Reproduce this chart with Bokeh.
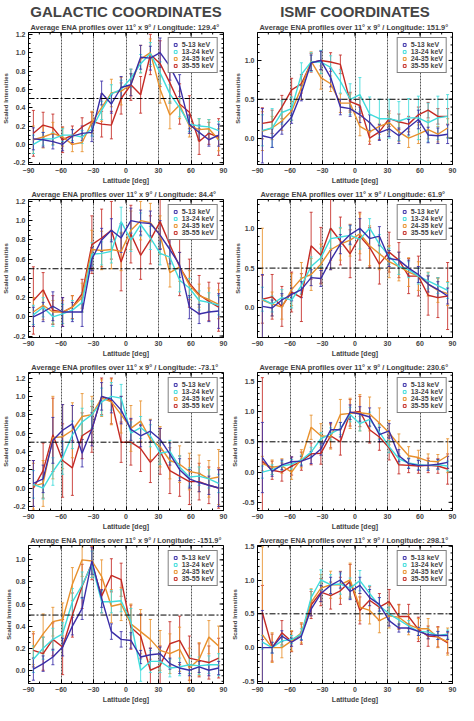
import numpy as np
from bokeh.plotting import figure
from bokeh.layouts import gridplot
from bokeh.models import (Range1d, FixedTicker, Span, Whisker, ColumnDataSource,
                          Legend, LegendItem, Title, TeeHead, NumeralTickFormatter)
from bokeh.embed import file_html
from bokeh.resources import INLINE

# ---------------- data ----------------
latitudes = [-85.5, -76.5, -67.5, -58.5, -49.5, -40.5, -31.5, -22.5, -13.5, -4.5,
             4.5, 13.5, 22.5, 31.5, 40.5, 49.5, 58.5, 67.5, 76.5, 85.5]
energy_bands = ["5-13 keV", "13-24 keV", "24-35 keV", "35-55 keV"]
band_colors = ["#3a2ea8", "#3fdcdc", "#e8902c", "#c42a24"]
x_ticks = [-90, -60, -30, 0, 30, 60, 90]

# Galactic, longitude 129.4
g1294_513 = [0.06, 0.05, 0.03, 0.00, 0.09, 0.12, 0.13, 0.56, 0.44, 0.62, 0.65, 0.95, 0.94, 1.00, 0.85, 0.64, 0.22, 0.13, 0.05, 0.10]
g1294_1324 = [0.00, 0.06, 0.06, 0.10, 0.10, 0.08, 0.17, 0.37, 0.55, 0.60, 0.72, 0.88, 0.99, 0.78, 0.55, 0.40, 0.22, 0.20, 0.19, 0.15]
g1294_2435 = [0.05, 0.08, 0.12, 0.08, 0.00, 0.02, 0.24, 0.40, 0.56, 0.58, 0.65, 0.93, 1.00, 0.60, 0.32, 0.43, 0.20, 0.16, 0.17, 0.05]
g1294_3555 = [0.12, 0.21, 0.18, 0.05, 0.10, 0.19, 0.25, 0.22, 0.21, 0.50, 0.65, 0.54, 0.98, 0.88, 0.67, 0.44, 0.35, 0.03, 0.12, 0.08]
g1294_err513 = [0.12, 0.08, 0.08, 0.07, 0.07, 0.08, 0.10, 0.13, 0.10, 0.12, 0.12, 0.13, 0.13, 0.16, 0.15, 0.12, 0.10, 0.08, 0.07, 0.12]
g1294_err1324 = [0.10, 0.07, 0.07, 0.07, 0.06, 0.07, 0.08, 0.10, 0.10, 0.10, 0.10, 0.10, 0.12, 0.12, 0.10, 0.10, 0.08, 0.08, 0.08, 0.10]
g1294_err2435 = [0.15, 0.12, 0.12, 0.10, 0.08, 0.10, 0.12, 0.15, 0.15, 0.15, 0.12, 0.15, 0.15, 0.15, 0.15, 0.15, 0.12, 0.12, 0.10, 0.12]
g1294_err3555 = [0.25, 0.14, 0.15, 0.14, 0.10, 0.10, 0.10, 0.14, 0.15, 0.17, 0.17, 0.20, 0.22, 0.25, 0.22, 0.22, 0.18, 0.14, 0.12, 0.20]

# ISMF, longitude 151.9
i1519_513 = [0.03, 0.00, 0.13, 0.27, 0.58, 0.97, 1.00, 0.78, 0.40, 0.38, 0.30, 0.20, 0.07, 0.12, 0.03, 0.14, 0.24, 0.04, 0.03, 0.05]
i1519_1324 = [0.10, 0.13, 0.33, 0.38, 0.82, 0.98, 0.98, 0.91, 0.73, 0.50, 0.56, 0.31, 0.25, 0.25, 0.22, 0.26, 0.26, 0.20, 0.26, 0.28]
i1519_2435 = [0.09, 0.13, 0.22, 0.35, 0.65, 0.99, 0.78, 0.70, 0.45, 0.45, 0.15, 0.08, 0.15, 0.20, 0.08, 0.00, 0.05, 0.11, 0.05, 0.13]
i1519_3555 = [0.19, 0.21, 0.40, 0.62, 0.70, 0.97, 1.00, 0.98, 0.95, 0.47, 0.42, 0.00, 0.08, 0.25, 0.21, 0.18, 0.30, 0.36, 0.28, 0.28]
i1519_err513 = [0.35, 0.12, 0.08, 0.08, 0.10, 0.10, 0.12, 0.12, 0.10, 0.10, 0.10, 0.10, 0.10, 0.10, 0.10, 0.10, 0.12, 0.10, 0.10, 0.12]
i1519_err1324 = [0.20, 0.25, 0.15, 0.15, 0.15, 0.12, 0.15, 0.15, 0.15, 0.20, 0.22, 0.22, 0.25, 0.25, 0.25, 0.25, 0.28, 0.25, 0.28, 0.28]
i1519_err2435 = [0.25, 0.15, 0.12, 0.12, 0.15, 0.12, 0.15, 0.10, 0.12, 0.12, 0.12, 0.12, 0.10, 0.12, 0.12, 0.12, 0.12, 0.12, 0.10, 0.12]
i1519_err3555 = [0.20, 0.15, 0.15, 0.15, 0.12, 0.12, 0.12, 0.12, 0.12, 0.12, 0.10, 0.08, 0.10, 0.10, 0.10, 0.10, 0.10, 0.10, 0.10, 0.10]

# Galactic, longitude 84.4
g844_513 = [0.00, 0.05, 0.11, 0.05, 0.05, 0.05, 0.60, 0.80, 0.90, 0.82, 1.00, 0.98, 0.97, 0.85, 0.70, 0.54, 0.10, 0.03, 0.05, 0.06]
g844_1324 = [0.02, 0.10, 0.00, 0.03, 0.07, 0.15, 0.65, 0.66, 0.68, 0.99, 0.80, 0.96, 0.82, 0.66, 0.62, 0.38, 0.30, 0.17, 0.15, 0.12]
g844_2435 = [0.05, 0.12, 0.05, 0.05, 0.10, 0.20, 0.70, 0.69, 0.70, 0.68, 0.90, 1.00, 0.98, 0.85, 0.46, 0.52, 0.33, 0.22, 0.18, 0.13]
g844_3555 = [0.17, 0.28, 0.07, 0.05, 0.10, 0.24, 0.75, 0.82, 0.90, 0.57, 0.86, 0.64, 0.80, 0.99, 0.75, 0.52, 0.35, 0.23, 0.16, 0.10]
g844_err513 = [0.10, 0.10, 0.15, 0.15, 0.10, 0.15, 0.12, 0.12, 0.12, 0.15, 0.13, 0.13, 0.13, 0.15, 0.15, 0.13, 0.12, 0.10, 0.10, 0.18]
g844_err1324 = [0.10, 0.10, 0.10, 0.10, 0.10, 0.10, 0.12, 0.12, 0.12, 0.15, 0.12, 0.12, 0.12, 0.12, 0.12, 0.12, 0.10, 0.10, 0.10, 0.10]
g844_err2435 = [0.15, 0.15, 0.12, 0.12, 0.12, 0.15, 0.20, 0.20, 0.20, 0.20, 0.20, 0.20, 0.20, 0.20, 0.15, 0.15, 0.15, 0.12, 0.12, 0.15]
g844_err3555 = [0.35, 0.18, 0.15, 0.15, 0.12, 0.15, 0.30, 0.30, 0.30, 0.30, 0.30, 0.25, 0.25, 0.28, 0.25, 0.30, 0.25, 0.20, 0.20, 0.25]

# ISMF, longitude 61.9
i619_513 = [0.02, 0.00, 0.10, 0.17, 0.23, 0.38, 0.37, 0.60, 0.80, 0.92, 1.00, 0.87, 0.90, 0.62, 0.60, 0.50, 0.42, 0.30, 0.23, 0.15]
i619_1324 = [0.11, 0.05, 0.13, 0.10, 0.28, 0.52, 0.63, 0.87, 0.89, 0.91, 0.86, 1.00, 0.80, 0.65, 0.52, 0.48, 0.40, 0.34, 0.28, 0.22]
i619_2435 = [0.10, 0.05, 0.01, 0.23, 0.37, 0.42, 0.55, 0.73, 0.80, 0.85, 0.93, 0.78, 0.68, 0.58, 0.52, 0.45, 0.40, 0.30, 0.22, 0.18]
i619_3555 = [0.11, 0.14, 0.02, 0.20, 0.13, 0.78, 0.66, 1.00, 0.84, 0.68, 0.90, 0.76, 0.55, 0.70, 0.60, 0.40, 0.40, 0.16, 0.13, 0.15]
i619_err513 = [0.40, 0.10, 0.08, 0.08, 0.10, 0.10, 0.10, 0.12, 0.12, 0.12, 0.12, 0.12, 0.12, 0.10, 0.10, 0.10, 0.10, 0.10, 0.10, 0.10]
i619_err1324 = [0.15, 0.10, 0.10, 0.10, 0.10, 0.12, 0.12, 0.12, 0.12, 0.12, 0.12, 0.12, 0.12, 0.10, 0.10, 0.10, 0.10, 0.10, 0.10, 0.10]
i619_err2435 = [0.90, 0.15, 0.15, 0.20, 0.20, 0.20, 0.25, 0.25, 0.20, 0.20, 0.25, 0.25, 0.20, 0.20, 0.18, 0.18, 0.18, 0.15, 0.15, 0.15]
i619_err3555 = [0.30, 0.28, 0.25, 0.25, 0.30, 0.42, 0.35, 0.40, 0.30, 0.30, 0.30, 0.25, 0.25, 0.25, 0.22, 0.22, 0.25, 0.25, 0.25, 0.42]

# Galactic, longitude -73.1
g731_513 = [0.05, 0.10, 0.52, 0.63, 0.70, 0.38, 0.64, 1.00, 0.97, 0.85, 0.64, 0.57, 0.62, 0.53, 0.37, 0.20, 0.10, 0.06, 0.03, 0.00]
g731_1324 = [0.04, 0.00, 0.18, 0.33, 0.58, 0.72, 0.80, 0.94, 1.00, 0.98, 0.60, 0.66, 0.57, 0.38, 0.40, 0.23, 0.12, 0.13, 0.10, 0.05]
g731_2435 = [0.02, 0.05, 0.55, 0.56, 0.63, 0.78, 0.80, 0.98, 0.94, 0.80, 0.65, 0.73, 0.53, 0.45, 0.30, 0.26, 0.18, 0.16, 0.10, 0.12]
g731_3555 = [0.00, 0.19, 0.58, 0.30, 0.22, 0.57, 0.64, 1.00, 0.95, 0.50, 0.50, 0.43, 0.28, 0.40, 0.19, 0.13, 0.07, 0.07, 0.03, 0.00]
g731_err513 = [0.25, 0.15, 0.25, 0.28, 0.20, 0.15, 0.18, 0.15, 0.15, 0.15, 0.12, 0.12, 0.12, 0.12, 0.12, 0.12, 0.10, 0.10, 0.10, 0.20]
g731_err1324 = [0.15, 0.12, 0.15, 0.18, 0.15, 0.15, 0.15, 0.15, 0.15, 0.15, 0.12, 0.12, 0.12, 0.12, 0.12, 0.12, 0.10, 0.10, 0.10, 0.10]
g731_err2435 = [0.25, 0.25, 0.45, 0.35, 0.30, 0.25, 0.20, 0.20, 0.25, 0.20, 0.25, 0.22, 0.22, 0.22, 0.20, 0.20, 0.20, 0.20, 0.20, 0.30]
g731_err3555 = [0.30, 0.30, 0.40, 0.40, 0.30, 0.25, 0.25, 0.20, 0.25, 0.22, 0.25, 0.25, 0.22, 0.25, 0.25, 0.22, 0.25, 0.20, 0.20, 0.22]

# ISMF, longitude 230.6
i2306_513 = [0.24, 0.01, 0.12, 0.17, 0.18, 0.24, 0.38, 0.70, 0.70, 0.99, 0.96, 0.91, 0.62, 0.68, 0.27, 0.14, 0.11, 0.11, 0.13, 0.16]
i2306_1324 = [0.00, 0.04, 0.10, 0.13, 0.20, 0.33, 0.55, 0.63, 0.72, 0.95, 0.80, 0.87, 0.66, 0.42, 0.22, 0.15, 0.12, 0.11, 0.12, 0.10]
i2306_2435 = [0.14, 0.08, 0.10, 0.00, 0.22, 0.74, 0.60, 0.58, 0.95, 0.97, 0.98, 0.96, 0.81, 0.65, 0.45, 0.27, 0.24, 0.18, 0.17, 0.27]
i2306_3555 = [0.18, 0.03, 0.00, 0.10, 0.18, 0.30, 0.31, 0.60, 0.50, 0.98, 1.00, 0.70, 0.58, 0.40, 0.12, 0.11, 0.10, 0.11, 0.10, 0.05]
i2306_err513 = [0.58, 0.08, 0.08, 0.08, 0.08, 0.10, 0.10, 0.12, 0.12, 0.12, 0.12, 0.15, 0.12, 0.12, 0.10, 0.08, 0.08, 0.08, 0.08, 0.10]
i2306_err1324 = [0.10, 0.08, 0.08, 0.08, 0.08, 0.08, 0.10, 0.10, 0.10, 0.12, 0.12, 0.12, 0.12, 0.10, 0.08, 0.08, 0.08, 0.08, 0.08, 0.08]
i2306_err2435 = [0.12, 0.12, 0.12, 0.12, 0.15, 0.20, 0.20, 0.20, 0.25, 0.25, 0.30, 0.28, 0.25, 0.20, 0.18, 0.15, 0.12, 0.12, 0.12, 0.28]
i2306_err3555 = [1.38, 0.15, 0.15, 0.15, 0.15, 0.18, 0.18, 0.20, 0.22, 0.22, 0.25, 0.22, 0.22, 0.20, 0.15, 0.12, 0.12, 0.12, 0.12, 0.25]

# Galactic, longitude -151.9
g1519_513 = [0.01, 0.06, 0.12, 0.21, 0.40, 0.56, 0.99, 0.65, 0.35, 0.28, 0.27, 0.12, 0.14, 0.15, 0.06, 0.02, 0.00, 0.03, 0.00, 0.02]
g1519_1324 = [0.10, 0.20, 0.28, 0.33, 0.62, 0.77, 0.96, 0.62, 0.62, 0.63, 0.44, 0.00, 0.08, 0.08, 0.02, 0.03, 0.05, 0.04, 0.05, 0.05]
g1519_2435 = [0.20, 0.33, 0.44, 0.46, 0.78, 1.00, 0.99, 0.85, 0.58, 0.60, 0.42, 0.35, 0.28, 0.18, 0.15, 0.19, 0.02, 0.10, 0.30, 0.22]
g1519_3555 = [0.18, 0.15, 0.28, 0.21, 0.50, 0.76, 0.97, 0.67, 0.86, 0.82, 0.39, 0.31, 0.00, 0.04, 0.24, 0.27, 0.11, 0.09, 0.07, 0.11]
g1519_err513 = [0.10, 0.07, 0.07, 0.08, 0.08, 0.10, 0.12, 0.08, 0.07, 0.07, 0.07, 0.06, 0.06, 0.06, 0.05, 0.05, 0.05, 0.05, 0.05, 0.06]
g1519_err1324 = [0.12, 0.10, 0.10, 0.10, 0.12, 0.12, 0.12, 0.10, 0.10, 0.10, 0.12, 0.10, 0.10, 0.10, 0.08, 0.08, 0.08, 0.08, 0.08, 0.10]
g1519_err2435 = [0.15, 0.18, 0.13, 0.15, 0.15, 0.15, 0.15, 0.15, 0.15, 0.15, 0.18, 0.20, 0.18, 0.18, 0.18, 0.20, 0.18, 0.15, 0.15, 0.18]
g1519_err3555 = [0.15, 0.15, 0.15, 0.25, 0.20, 0.20, 0.15, 0.15, 0.15, 0.15, 0.20, 0.20, 0.20, 0.18, 0.20, 0.22, 0.20, 0.15, 0.15, 0.18]

# ISMF, longitude 298.1
i2981_513 = [0.00, 0.00, 0.17, 0.08, 0.17, 0.57, 0.80, 0.92, 1.00, 0.83, 0.92, 0.74, 0.64, 0.40, 0.29, 0.29, 0.24, 0.19, 0.18, 0.18]
i2981_1324 = [0.08, 0.00, 0.10, 0.12, 0.20, 0.74, 1.00, 0.93, 0.94, 0.88, 0.99, 0.80, 0.62, 0.50, 0.41, 0.32, 0.24, 0.23, 0.18, 0.20]
i2981_2435 = [0.19, 0.00, 0.00, 0.10, 0.22, 0.67, 0.88, 0.93, 0.93, 1.00, 0.60, 0.55, 0.40, 0.47, 0.45, 0.34, 0.28, 0.28, 0.15, 0.09]
i2981_3555 = [0.52, 0.00, 0.22, 0.09, 0.20, 0.63, 0.82, 0.77, 0.84, 0.98, 0.55, 0.70, 0.60, 0.68, 0.46, 0.46, 0.27, 0.17, 0.16, 0.07]
i2981_err513 = [0.55, 0.08, 0.08, 0.06, 0.06, 0.10, 0.12, 0.12, 0.12, 0.12, 0.12, 0.12, 0.10, 0.08, 0.06, 0.06, 0.06, 0.06, 0.06, 0.06]
i2981_err1324 = [0.10, 0.08, 0.08, 0.06, 0.08, 0.12, 0.15, 0.15, 0.15, 0.15, 0.15, 0.12, 0.12, 0.10, 0.08, 0.08, 0.06, 0.06, 0.06, 0.06]
i2981_err2435 = [1.30, 0.22, 0.15, 0.15, 0.15, 0.20, 0.20, 0.20, 0.20, 0.25, 0.20, 0.20, 0.18, 0.18, 0.18, 0.15, 0.15, 0.15, 0.15, 0.20]
i2981_err3555 = [0.40, 0.20, 0.18, 0.15, 0.15, 0.20, 0.20, 0.20, 0.20, 0.25, 0.20, 0.20, 0.20, 0.18, 0.18, 0.18, 0.18, 0.15, 0.15, 0.15]

panels = [
    dict(lon=129.4, header="GALACTIC COORDINATES", yr=(-0.22, 1.22), yt=[-0.2, 0.0, 0.2, 0.4, 0.6, 0.8, 1.0, 1.2], ym=0.05,
         vals=[g1294_513, g1294_1324, g1294_2435, g1294_3555], errs=[g1294_err513, g1294_err1324, g1294_err2435, g1294_err3555]),
    dict(lon=151.9, header="ISMF COORDINATES", yr=(-0.34, 1.36), yt=[0.0, 0.5, 1.0], ym=0.1,
         vals=[i1519_513, i1519_1324, i1519_2435, i1519_3555], errs=[i1519_err513, i1519_err1324, i1519_err2435, i1519_err3555]),
    dict(lon=84.4, header=None, yr=(-0.215, 1.22), yt=[-0.2, 0.0, 0.2, 0.4, 0.6, 0.8, 1.0, 1.2], ym=0.05,
         vals=[g844_513, g844_1324, g844_2435, g844_3555], errs=[g844_err513, g844_err1324, g844_err2435, g844_err3555]),
    dict(lon=61.9, header=None, yr=(-0.37, 1.36), yt=[0.0, 0.5, 1.0], ym=0.1,
         vals=[i619_513, i619_1324, i619_2435, i619_3555], errs=[i619_err513, i619_err1324, i619_err2435, i619_err3555]),
    dict(lon=-73.1, header=None, yr=(-0.245, 1.26), yt=[-0.2, 0.0, 0.2, 0.4, 0.6, 0.8, 1.0, 1.2], ym=0.05,
         vals=[g731_513, g731_1324, g731_2435, g731_3555], errs=[g731_err513, g731_err1324, g731_err2435, g731_err3555]),
    dict(lon=230.6, header=None, yr=(-0.635, 1.645), yt=[-0.5, 0.0, 0.5, 1.0, 1.5], ym=0.1,
         vals=[i2306_513, i2306_1324, i2306_2435, i2306_3555], errs=[i2306_err513, i2306_err1324, i2306_err2435, i2306_err3555]),
    dict(lon=-151.9, header=None, yr=(-0.12, 1.13), yt=[0.0, 0.2, 0.4, 0.6, 0.8, 1.0], ym=0.05,
         vals=[g1519_513, g1519_1324, g1519_2435, g1519_3555], errs=[g1519_err513, g1519_err1324, g1519_err2435, g1519_err3555]),
    dict(lon=298.1, header=None, yr=(-0.53, 1.51), yt=[-0.5, 0.0, 0.5, 1.0, 1.5], ym=0.1,
         vals=[i2981_513, i2981_1324, i2981_2435, i2981_3555], errs=[i2981_err513, i2981_err1324, i2981_err2435, i2981_err3555]),
]

FONT = "Liberation Sans"
FIG_W = 229
BORDER_L, BORDER_R = 24, 6


def style_axis(ax):
    ax.axis_line_color = "black"
    ax.major_tick_in = 4
    ax.major_tick_out = 0
    ax.minor_tick_in = 2
    ax.minor_tick_out = 0
    ax.major_tick_line_color = "black"
    ax.minor_tick_line_color = "black"
    ax.major_label_text_font = FONT
    ax.major_label_text_font_style = "bold"
    ax.major_label_text_font_size = "7px"
    ax.major_label_standoff = 3
    ax.axis_label_text_font = FONT
    ax.axis_label_text_font_style = "bold"
    ax.axis_label_standoff = 1


def make_panel(cfg, height, inner_h):
    y0, y1 = cfg["yr"]
    p = figure(width=FIG_W, height=height, output_backend="svg", toolbar_location=None,
               x_range=Range1d(-90, 90), y_range=Range1d(y0, y1),
               min_border_left=BORDER_L, min_border_right=BORDER_R, min_border_top=2, min_border_bottom=2)
    p.outline_line_color = "black"
    p.outline_line_width = 1
    p.background_fill_color = "white"
    p.ygrid.visible = False
    p.xgrid.ticker = FixedTicker(ticks=[-60, -30, 0, 30, 60])
    p.xgrid.grid_line_color = "#555555"
    p.xgrid.grid_line_width = 1
    p.xgrid.grid_line_dash = "2 1"

    x_minor = list(np.arange(-90, 91, 10))
    y_minor = [t for t in np.round(np.arange(-1.0, 2.0001, cfg["ym"]), 3) if y0 < t < y1]
    p.xaxis.ticker = FixedTicker(ticks=x_ticks, minor_ticks=x_minor)
    p.yaxis.ticker = FixedTicker(ticks=cfg["yt"], minor_ticks=y_minor)
    p.yaxis.formatter = NumeralTickFormatter(format="0.0")
    style_axis(p.xaxis[0])
    style_axis(p.yaxis[0])
    p.xaxis.axis_label = "Latitude [deg]"
    p.xaxis.axis_label_text_font_size = "7px"
    p.yaxis.axis_label = "Scaled Intensities"
    p.yaxis.axis_label_text_font_size = "6px"

    # mirrored (inward) ticks on the top and right frame edges, IDL style
    inner_w = FIG_W - BORDER_L - BORDER_R
    dx = 180.0 / inner_w
    dy = (y1 - y0) / inner_h
    p.segment(x0=x_ticks, y0=[y1] * len(x_ticks), x1=x_ticks, y1=[y1 - 4 * dy] * len(x_ticks),
              line_color="black", line_width=1)
    p.segment(x0=x_minor, y0=[y1] * len(x_minor), x1=x_minor, y1=[y1 - 2 * dy] * len(x_minor),
              line_color="black", line_width=1)
    p.segment(x0=[90] * len(cfg["yt"]), y0=cfg["yt"], x1=[90 - 4 * dx] * len(cfg["yt"]), y1=cfg["yt"],
              line_color="black", line_width=1)
    p.segment(x0=[90] * len(y_minor), y0=y_minor, x1=[90 - 2 * dx] * len(y_minor), y1=y_minor,
              line_color="black", line_width=1)

    p.add_layout(Span(location=0.5, dimension="width", line_color="black",
                      line_width=1, line_dash="6 2 2 2"))

    for k in [3, 2, 1, 0]:
        c = band_colors[k]
        v = np.array(cfg["vals"][k])
        e = np.array(cfg["errs"][k])
        src = ColumnDataSource(dict(x=latitudes, y=v, lo=v - e, hi=v + e))
        p.add_layout(Whisker(source=src, base="x", upper="hi", lower="lo",
                             line_color=c, line_width=1, line_alpha=0.85,
                             upper_head=TeeHead(size=3, line_color=c, line_width=1, line_alpha=0.85),
                             lower_head=TeeHead(size=3, line_color=c, line_width=1, line_alpha=0.85)))
        p.line("x", "y", source=src, line_color=c, line_width=1.4)

    legend_items = []
    for k in range(4):
        c = band_colors[k]
        r = p.scatter(x=[np.nan], y=[np.nan], marker="square", size=5,
                      fill_color=None, line_color=c, line_width=1)
        legend_items.append(LegendItem(label=energy_bands[k], renderers=[r]))
    leg = Legend(items=legend_items, location="top_right",
                 label_text_font=FONT, label_text_font_style="bold", label_text_font_size="7px",
                 label_height=7, glyph_height=7, glyph_width=7, spacing=0, padding=3, margin=5,
                 label_standoff=3, border_line_color="black", border_line_width=1,
                 background_fill_color="white", background_fill_alpha=1.0)
    p.add_layout(leg)

    title_txt = "Average ENA profiles over 11\u00b0 x 9\u00b0 / Longitude: %6.1f\u00b0" % cfg["lon"]
    p.add_layout(Title(text=title_txt, align="center", text_font=FONT, text_font_style="bold",
                       text_font_size="7.4px", standoff=2, offset=0), "above")
    if cfg["header"]:
        p.add_layout(Title(text=cfg["header"], align="center", text_font=FONT, text_font_style="bold",
                           text_font_size="15px", standoff=0, offset=0), "above")
    return p


heights = [186, 186, 173, 173, 173, 173, 173, 173]
inner_heights = [134, 134, 139, 139, 139, 139, 139, 139]
figs = [make_panel(cfg, h, ih) for cfg, h, ih in zip(panels, heights, inner_heights)]
grid = gridplot([[figs[0], figs[1]], [figs[2], figs[3]], [figs[4], figs[5]], [figs[6], figs[7]]],
                toolbar_location=None)

open("out.html", "w").write(file_html(grid, INLINE))
